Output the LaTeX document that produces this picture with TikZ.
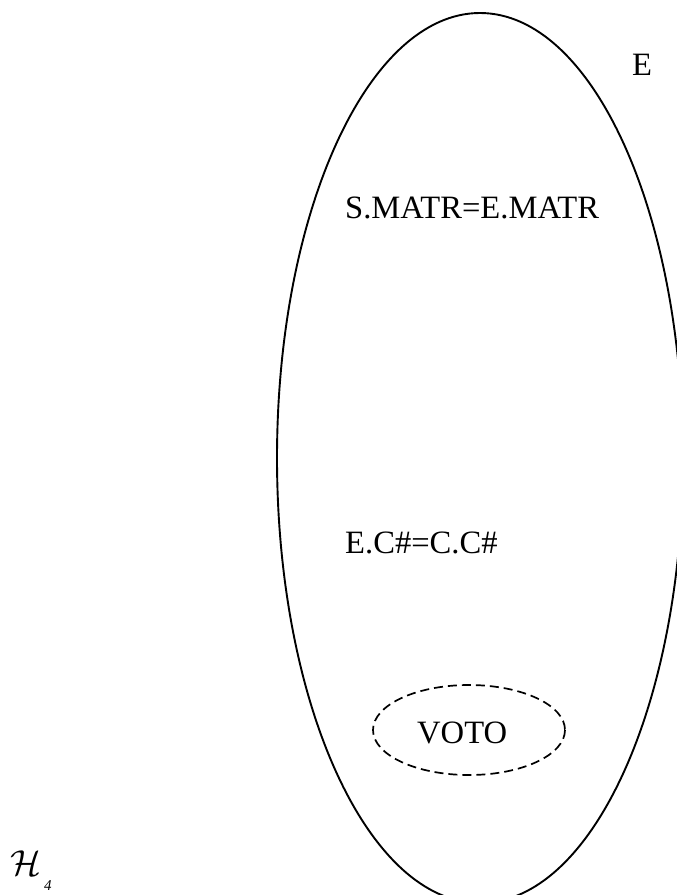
\documentclass[tikz,border=0pt]{standalone}
\usepackage{fontspec}
\setmainfont{Liberation Serif}
\begin{document}
\begin{tikzpicture}[x=1pt,y=-1pt,
  lbl/.style={inner sep=0pt, anchor=base west, font=\fontsize{32.6}{38}\selectfont},
  setline/.style={line width=1.9pt},
  subsetline/.style={line width=1.7pt, dash pattern=on 9pt off 5pt}]
\useasboundingbox (0,0) rectangle (677,895);
\clip (0,0) rectangle (677,895);
% entity set E and the VOTO subset
\coordinate (Ec) at (480,458);
\coordinate (Vc) at (469,730);
\draw[setline] (Ec) ellipse [x radius=203, y radius=445];
\draw[subsetline] (Vc) ellipse [x radius=96, y radius=45];
% labels
\node[lbl] (e)    at (632,75)  {E};
\node[lbl] (smat) at (345,218) {S.MATR=E.MATR};
\node[lbl] (ecc)  at (345,553) {E.C\#=C.C\#};
\node[lbl] (voto) at (417,743) {VOTO};
\node[inner sep=0pt, anchor=base west] (h4) at (10,875)
  {\fontsize{24.88}{30}\selectfont\scalebox{1.45}{$\mathcal{H}$}\hspace{3pt}\raisebox{-15pt}{\fontsize{15}{17}\selectfont\textit{4}}};
\end{tikzpicture}
\end{document}
